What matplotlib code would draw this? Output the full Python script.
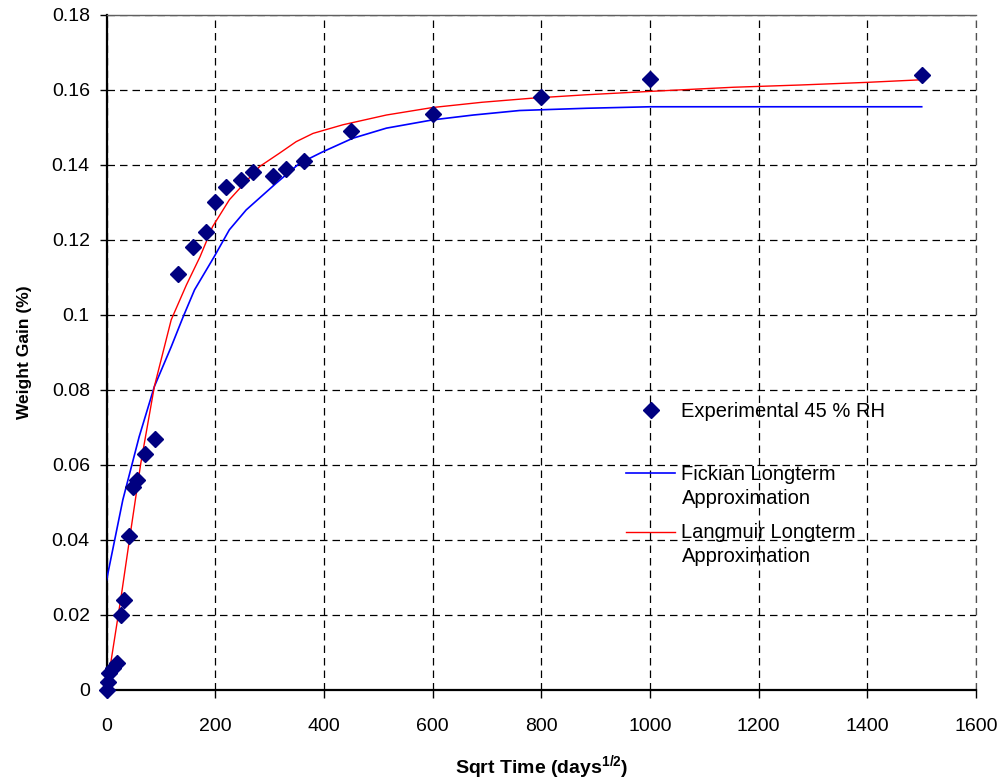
"""Weight gain vs sqrt time: experimental 45 % RH with Fickian / Langmuir fits."""
import matplotlib
matplotlib.use("Agg")
import matplotlib.pyplot as plt
from matplotlib.legend_handler import HandlerLine2D

# Experimental points
exp_x = [0, 2, 5, 11, 19, 27, 33, 41, 49, 56, 71, 90, 131, 159, 183, 199,
         220, 248, 270, 306, 330, 363, 450, 600, 800, 1000, 1500]
exp_y = [0.0, 0.002, 0.0044, 0.0058, 0.0071, 0.020, 0.024, 0.041, 0.054, 0.056,
         0.063, 0.067, 0.111, 0.118, 0.122, 0.130, 0.134, 0.136, 0.138, 0.137,
         0.139, 0.141, 0.149, 0.1535, 0.158, 0.163, 0.164]

# Fickian longterm approximation
fick_x = [0, 15, 30, 60, 88, 119, 141, 162, 198, 226, 257, 312, 355, 398, 453,
          515, 600, 675, 760, 821, 883, 1000, 1500]
fick_y = [0.0293, 0.040, 0.0507, 0.0675, 0.0809, 0.0915, 0.0995, 0.1067, 0.1155,
          0.1227, 0.128, 0.1351, 0.1404, 0.1435, 0.1471, 0.1498, 0.152, 0.1533,
          0.1545, 0.1548, 0.1551, 0.1555, 0.1555]

# Langmuir longterm approximation
lang_x = [0, 27, 43, 63, 88, 119, 147, 172, 195, 226, 282, 318, 349, 380, 435,
          515, 600, 691, 784, 883, 1000, 1153, 1276, 1398, 1500]
lang_y = [0.0, 0.025, 0.0409, 0.0604, 0.0809, 0.0987, 0.108, 0.1155, 0.1235,
          0.1307, 0.1396, 0.1431, 0.1462, 0.1484, 0.1507, 0.1533, 0.1553, 0.1567,
          0.1578, 0.1587, 0.1596, 0.1607, 0.1613, 0.162, 0.1627]

x_ticks = [0, 200, 400, 600, 800, 1000, 1200, 1400, 1600]
y_ticks = [0, 0.02, 0.04, 0.06, 0.08, 0.1, 0.12, 0.14, 0.16, 0.18]
y_labels = ["0", "0.02", "0.04", "0.06", "0.08", "0.1", "0.12", "0.14", "0.16", "0.18"]


class TopLineHandler(HandlerLine2D):
    """把图例线段抬到多行标签的第一行。"""

    def __init__(self, lift, **kw):
        super().__init__(**kw)
        self.lift = lift

    def create_artists(self, legend, orig_handle, xdescent, ydescent, width,
                       height, fontsize, trans):
        return super().create_artists(legend, orig_handle, xdescent,
                                      ydescent - self.lift * fontsize, width,
                                      height, fontsize, trans)


plt.rcParams["font.family"] = ["Liberation Sans", "DejaVu Sans"]
plt.rcParams["mathtext.fontset"] = "custom"
plt.rcParams["mathtext.rm"] = "Liberation Sans"
plt.rcParams["mathtext.bf"] = "Liberation Sans:bold"
plt.rcParams["mathtext.it"] = "Liberation Sans:italic"

fig = plt.figure(figsize=(10.05, 7.83), dpi=100)
ax = fig.add_axes([0.106, 0.1188, 0.8652, 0.8622])

h_exp, = ax.plot(exp_x, exp_y, linestyle="none", marker="D", markersize=8.5,
                 color="#000080", label="Experimental 45 % RH", zorder=4,
                 clip_on=False)
h_fick, = ax.plot(fick_x, fick_y, color="#0000ff", linewidth=1.2,
                  label="Fickian Longterm\nApproximation", zorder=3)
h_lang, = ax.plot(lang_x, lang_y, color="#ff0000", linewidth=1.0,
                  label="Langmuir Longterm\nApproximation", zorder=3)

ax.set_xlim(0, 1600)
ax.set_ylim(0, 0.18)
ax.set_xticks(x_ticks)
ax.set_yticks(y_ticks)
ax.set_yticklabels(y_labels)
ax.tick_params(labelsize=14, direction="out", width=1)
ax.tick_params(axis="x", length=6, pad=14)
ax.tick_params(axis="y", length=5, pad=7)

grid_style = dict(color="black", linestyle=(0, (6, 4)), linewidth=0.9)
ax.grid(True, **grid_style)
ax.axvline(1600, clip_on=False, zorder=1, **{**grid_style, "color": "#505050"})
ax.set_axisbelow(True)
ax.spines["right"].set_visible(False)
ax.spines["top"].set_color("#606060")
ax.spines["top"].set_linewidth(1.0)
for side in ("left", "bottom"):
    ax.spines[side].set_linewidth(1.6)

ax.set_xlabel(r"Sqrt Time (days$^{\mathbf{1/2}}$)", fontsize=14,
              fontweight="bold", labelpad=13)
ax.set_ylabel("Weight Gain (%)", fontsize=12.5, fontweight="bold", labelpad=14)

leg_kw = dict(frameon=False, prop={"size": 14.5}, handlelength=2.45,
              handletextpad=0.3, borderpad=0, borderaxespad=0)
leg1 = ax.legend(handles=[h_exp], loc="center left",
                 bbox_to_anchor=(0.5975, 0.4118), **leg_kw)
ax.add_artist(leg1)
leg2 = ax.legend(handles=[h_fick, h_lang], loc="center left",
                 bbox_to_anchor=(0.5975, 0.2585), labelspacing=0.75,
                 handler_map={h_fick: TopLineHandler(1.35),
                              h_lang: TopLineHandler(1.35)}, **leg_kw)
for t in leg2.get_texts():
    t.set_linespacing(1.35)

fig.savefig("out.png", dpi=100)
